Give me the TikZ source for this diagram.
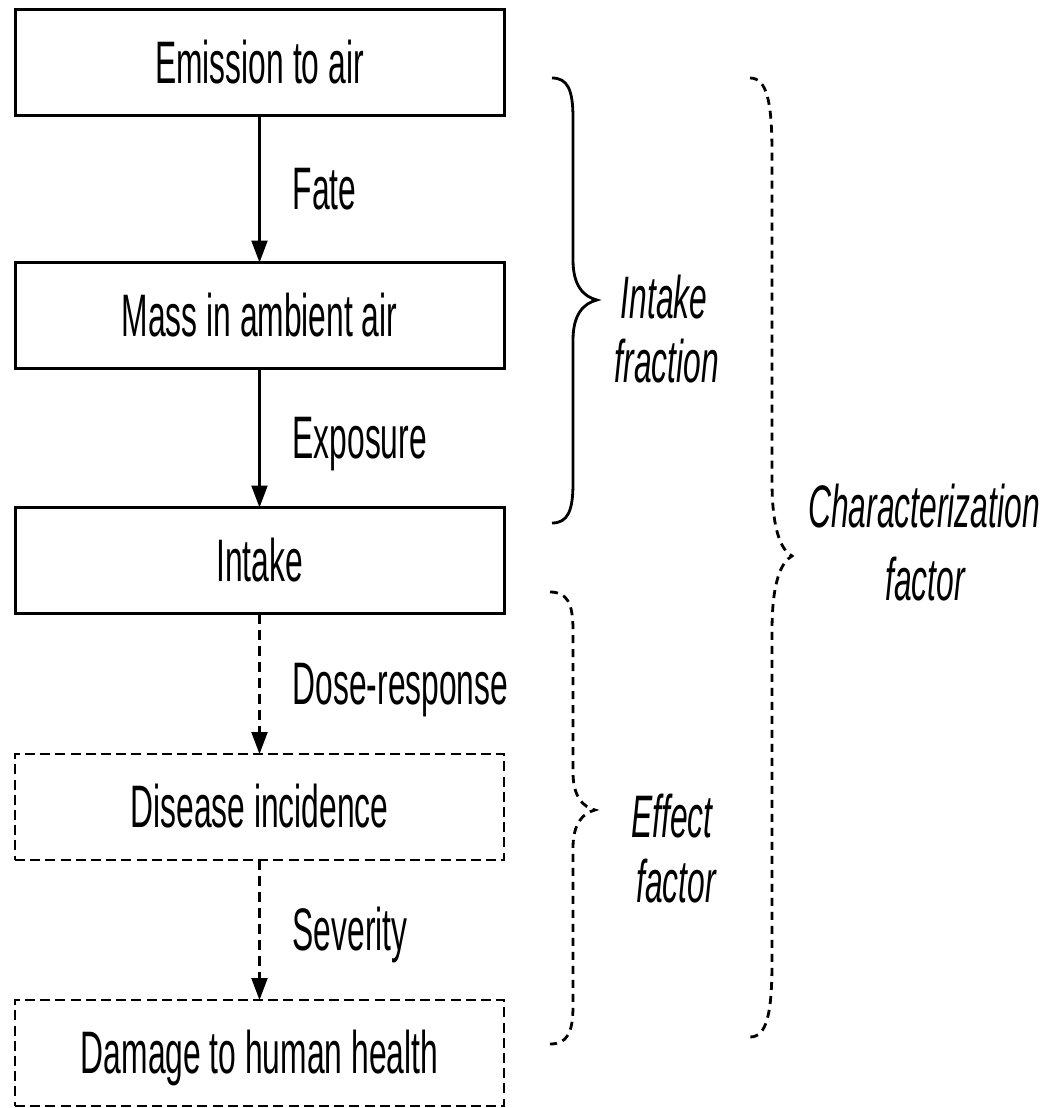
\documentclass[tikz,border=0pt]{standalone}
\usepackage{fontspec}
\setmainfont{Liberation Sans}[FakeStretch=0.53]
\usetikzlibrary{arrows.meta}
\newcommand{\curlybrace}[8]{%
  % #1 options, #2 end x, #3 spine x, #4 tip x, #5 top y, #6 tip y, #7 bottom y, #8 curve length
  \draw[#1] (#2,#5) .. controls ({#2+0.75*(#3-#2)},#5) and (#3,{#5+0.3*#8}) .. (#3,{#5+#8})
    -- (#3,{#6-#8}) .. controls (#3,{#6-0.35*#8}) and ({#3+0.45*(#4-#3)},{#6-0.08*#8}) .. (#4,#6)
    .. controls ({#3+0.45*(#4-#3)},{#6+0.08*#8}) and (#3,{#6+0.35*#8}) .. (#3,{#6+#8})
    -- (#3,{#7-#8}) .. controls (#3,{#7-0.3*#8}) and ({#2+0.75*(#3-#2)},#7) .. (#2,#7);}
\begin{document}
\begin{tikzpicture}[x=0.5pt,y=-0.5pt,
  box/.style={draw,line width=1.5pt,minimum width=244.5pt,minimum height=53pt,inner sep=0pt,outer sep=0pt,
    font=\fontsize{30}{36}\selectfont,text height=20.6pt,text depth=0pt},
  dbox/.style={box,line width=1.4pt,dash pattern=on 5pt off 2.6pt},
  arr/.style={line width=1.1pt,-{Triangle[width=8pt,length=11pt]}},
  darr/.style={arr,dash pattern=on 5pt off 3pt},
  elbl/.style={anchor=west,xshift=16pt,inner sep=0pt,font=\fontsize{30}{36}\selectfont,text height=20.6pt,text depth=0pt},
  slbl/.style={anchor=base,inner sep=0pt,font=\fontsize{30}{36}\selectfont\itshape},
  brc/.style={line width=1.4pt},
  dbrc/.style={line width=1.4pt,dash pattern=on 4pt off 3pt}]
\useasboundingbox (0,0) rectangle (1053,1108);
\node[box] (emis) at (259.5,62.5) {Emission to air};
\node[box] (mass) at (259.5,315.5) {Mass in ambient air};
\node[box] (intake) at (259.5,560.5) {Intake};
\node[dbox] (dis) at (259.5,807) {Disease incidence};
\node[dbox] (dam) at (259.5,1053) {Damage to human health};
\draw[arr] (emis) -- node[elbl] (fate) {Fate} (mass);
\draw[arr] (mass) -- node[elbl] (expo) {Exposure} (intake);
\draw[darr] (intake) -- node[elbl] (dose) {Dose-response} (dis);
\draw[darr] (dis) -- node[elbl] (sev) {Severity} (dam);
\curlybrace{brc}{552}{573}{597}{78}{300}{523}{40}
\curlybrace{dbrc}{550}{573}{595}{592}{810}{1044}{38}
\curlybrace{dbrc}{750}{772}{792}{78}{556}{1037}{75}
\node[slbl] (if1) at (664,318) {Intake};
\node[slbl] (if2) at (667,382) {fraction};
\node[slbl] (ef1) at (672,837) {Effect};
\node[slbl] (ef2) at (676,902) {factor};
\node[slbl] (cf1) at (924,527) {Characterization};
\node[slbl] (cf2) at (925,600) {factor};
\end{tikzpicture}
\end{document}
